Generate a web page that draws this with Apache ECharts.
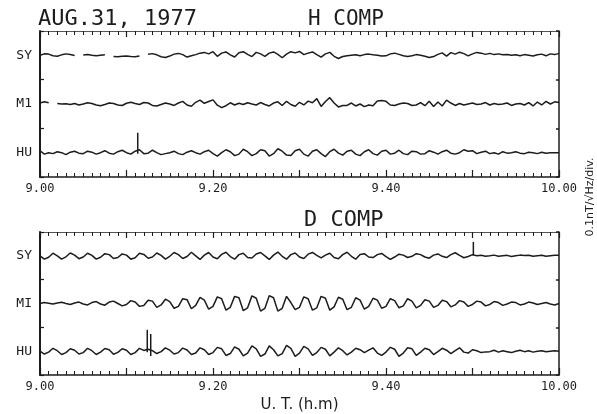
<!DOCTYPE html>
<html>
<head>
<meta charset="utf-8">
<script src="https://cdn.jsdelivr.net/npm/echarts@6/dist/echarts.min.js"></script>
<style>
html, body { margin: 0; padding: 0; background: #fff; }
#main { width: 597px; height: 414px; }
</style>
</head>
<body>
<div id="main"></div>
<script>
// traces every 0.5 min from 9.00 UT, in 0.01 div (null = pen gap)
const STEP = 0.5;
const tickLabels = ['9.00', '9.20', '9.40', '10.00'];
const hStations = ['SY', 'M1', 'HU'];
const dStations = ['SY', 'MI', 'HU'];
const offsets = [5, 3, 1]; // trace baselines, div

const hSY = [
  0, 6, 5, -2, -4, 2, 6, 3, -1, null,
  1, 3, 0, -2, 0, 2, null, -5, -6, -4,
  -3, -5, -6, -3, null, 4, 7, 2, -6, -9,
  -3, 5, 8, 3, -7, -2, 3, 9, 12, 6,
  15, -4, 9, 14, 2, -7, 11, 15, 4, -5,
  12, 6, -4, 9, 14, 4, -10, 5, 15, 10,
  16, 3, 9, 14, 3, -7, 6, 12, -4, -13,
  -5, -2, 0, 2, -2, 3, 5, 2, 0, -3,
  -2, 6, 9, 4, -2, -5, -2, 3, 0, -4,
  -9, -5, 4, 10, -3, 11, 5, 13, 7, -2,
  6, 12, 9, 4, 8, 3, 6, 2, 3, 0,
  2, -2, 3, 0, -3, 2, 5, -2, 6, 3,
  8
];
const hM1 = [
  4, 9, 5, null, 2, 0, 1, -2, 2, -4,
  0, 5, 2, -4, -7, -2, 4, 2, -4, -6,
  3, 7, 2, -2, 6, 4, -6, -8, -2, 4,
  0, -6, 4, 11, -4, -9, 7, 16, 3, 10,
  17, -5, -15, -7, 5, -4, 3, -2, 5, 0,
  -4, 6, -2, -8, 4, 9, -6, 11, -2, -9,
  7, -4, 12, 5, 22, -10, 10, 26, 4, -12,
  -6, -6, 4, -8, 0, -11, -4, -7, 12, 14,
  11, -4, -6, 0, 4, 2, -6, -4, 6, -7,
  11, -10, 8, -8, 16, 4, -6, 2, -4, 0,
  4, -2, 0, 6, -4, 2, -2, 0, 4, -6,
  0, 2, -4, 6, -8, 8, -4, 11, 0, 9,
  6
];
const hHU = [
  8, -6, 0, -4, 4, 0, -8, 2, 6, -2,
  -4, 6, 2, -6, 0, 8, -2, -6, 4, 10,
  0, -6, 6, 12, -4, -2, 10, 0, -8, -4,
  0, 6, -4, -8, 2, 8, 0, -6, 4, 10,
  -4, -14, 0, 12, 4, -12, -6, 14, 4, -12,
  -4, 12, 8, -14, -4, 16, 6, -10, -12, 8,
  14, -6, -14, 6, 12, -4, -16, 4, 14, -2,
  -10, 6, 10, -6, -12, 4, 12, -4, -10, 6,
  10, -6, -2, 10, -4, -8, 6, 4, -6, -4,
  8, 2, -6, 4, 10, -2, -6, 0, 12, 6,
  8, -4, 2, 6, -4, 0, -6, 4, -2, 0,
  4, -2, -4, 2, 0, -4, 2, -2, 0, 0,
  0
];
const dSY = [
  0, -14, -6, 11, 0, -14, -4, 12, 3, -12,
  -5, 11, 2, -14, -6, 9, 5, -11, -7, 8,
  3, -14, -8, 11, 6, -10, -5, 12, 2, -14,
  -2, 14, 5, -11, -3, 15, 0, -15, 3, 14,
  -5, -12, 6, 15, -3, -14, 5, 11, -7, -9,
  8, 14, 0, -15, 3, 16, -2, -14, 5, 12,
  -5, -11, 7, 14, 2, -9, 3, 11, -7, -12,
  5, 15, -2, -14, 6, 9, -5, -7, 5, 10,
  -3, -15, -5, 7, 3, -7, -2, 9, 5, -5,
  -10, 3, 8, -2, -7, 5, 13, 2, -8, -3,
  5, 0, 2, -2, 0, 3, -2, 0, 2, -3,
  0, 3, 1, 2, -2, 0, 2, -2, 0, 2,
  2
];
const dMI = [
  0, 4, 1, -2, 2, 5, 0, -4, 2, 6,
  -2, -6, 4, 8, -2, -7, 6, 10, 0, -10,
  -4, 12, 6, -12, -8, 14, 10, -16, -6, 18,
  8, -20, -12, 20, 16, -22, -8, 26, 14, -24,
  -12, 28, 20, -28, -16, 30, 24, -30, -18, 32,
  22, -32, -20, 33, 24, -32, -20, 30, 4, -26,
  -16, 28, 20, -28, -18, 30, 22, -28, -14, 26,
  18, -26, -16, 24, 14, -24, -12, 22, 14, -20,
  -12, 20, 12, -18, -10, 20, 10, -18, -8, 16,
  10, -16, -8, 14, 8, -14, -6, 12, 6, -12,
  -4, 10, 6, -10, -4, 8, 4, -8, -2, 6,
  4, -6, -2, 6, 2, -4, 0, 4, -2, -6,
  0
];
const dHU = [
  0, -12, -4, 12, 2, -14, -6, 10, 4, -12,
  -6, 12, 2, -14, -4, 11, 6, -13, -5, 10,
  4, -14, -6, 12, 3, 8, 2, -10, -2, 14,
  4, -12, -6, 13, 5, -14, -8, 14, 6, -14,
  -6, 16, 10, -18, -10, 18, 8, -20, -8, 22,
  10, -22, -12, 22, 6, -20, -10, 24, 12, -22,
  -8, 20, 10, -18, -6, 16, 8, -20, -4, 14,
  2, -16, -4, 12, 6, -6, 4, 14, -8, -18,
  -4, 16, 8, -22, -8, 14, 10, -18, -4, 12,
  6, -14, -2, 12, 4, -10, 2, 14, -4, -8,
  6, 2, -6, -3, -2, 4, -4, 2, -2, -6,
  0, 4, -2, 2, -4, 0, 2, -2, 0, 2,
  0
];

// calibration pulses: [minute, trace index, from, to] in div
const hSpikes = [[11.3, 2, -0.04, 0.82]];
const dSpikes = [[12.4, 2, -0.05, 0.9], [12.8, 2, -0.2, 0.72], [50.1, 0, 0, 0.58]];

const ink = '#1c1c1c';
const mono = 'DejaVu Sans Mono';

function traceData(vals, base) {
  return vals.map((v, i) => [i * STEP, v == null ? '-' : base + v / 100]);
}

function xAxes(gi, name) {
  return [
    {
      type: 'value', gridIndex: gi, position: 'bottom', min: 0, max: 60, interval: 10,
      axisLine: { show: true, onZero: false, lineStyle: { color: ink, width: 1.5 } },
      axisTick: { show: true, inside: true, length: 7, lineStyle: { color: ink, width: 1.2 } },
      minorTick: { show: true, splitNumber: 10, length: 4, lineStyle: { color: ink, width: 1 } },
      splitLine: { show: false },
      axisLabel: {
        formatter: v => (v % 20 === 0 ? tickLabels[v / 20] : ''),
        fontFamily: mono, fontSize: 12, color: ink, margin: 6
      },
      name: name, nameLocation: 'middle', nameGap: 23,
      nameTextStyle: { fontFamily: 'DejaVu Sans', fontSize: 15, color: ink }
    },
    {
      type: 'value', gridIndex: gi, position: 'top', min: 0, max: 60, interval: 10,
      axisLine: { show: true, onZero: false, lineStyle: { color: '#555', width: 1 } },
      axisTick: { show: true, inside: true, length: 6, lineStyle: { color: ink, width: 1.2 } },
      minorTick: { show: true, splitNumber: 10, length: 4, lineStyle: { color: ink, width: 1 } },
      splitLine: { show: false },
      axisLabel: { show: false }
    }
  ];
}

function yAxes(gi, names) {
  return [
    {
      type: 'value', gridIndex: gi, position: 'left', min: 0, max: 6, interval: 1,
      axisLine: { show: true, onZero: false, lineStyle: { color: ink, width: 2 } },
      axisTick: { show: false },
      splitLine: { show: false },
      axisLabel: {
        formatter: v => { const k = offsets.indexOf(v); return k < 0 ? '' : names[k]; },
        fontFamily: mono, fontSize: 13, color: ink, margin: 8
      }
    },
    {
      type: 'value', gridIndex: gi, position: 'left', min: 0, max: 6, interval: 2,
      axisLine: { show: false },
      axisTick: { show: true, inside: true, length: 4, lineStyle: { color: ink, width: 1.2 } },
      splitLine: { show: false },
      axisLabel: { show: false }
    },
    {
      type: 'value', gridIndex: gi, position: 'right', min: 0, max: 6, interval: 2,
      axisLine: { show: true, onZero: false, lineStyle: { color: ink, width: 1.5 } },
      axisTick: { show: true, inside: true, length: 3, lineStyle: { color: ink, width: 1.5 } },
      splitLine: { show: false },
      axisLabel: { show: false }
    }
  ];
}

const lineStyle = { color: ink, width: 1.5 };
const series = [];
[[hSY, hM1, hHU], [dSY, dMI, dHU]].forEach((traces, gi) => {
  traces.forEach((vals, k) => {
    series.push({
      type: 'line', xAxisIndex: gi * 2, yAxisIndex: gi * 3,
      data: traceData(vals, offsets[k]),
      symbol: 'none', lineStyle: lineStyle, connectNulls: false, silent: true
    });
  });
});
[hSpikes, dSpikes].forEach((spikes, gi) => {
  spikes.forEach(s => {
    series.push({
      type: 'line', xAxisIndex: gi * 2, yAxisIndex: gi * 3,
      data: [[s[0], offsets[s[1]] + s[2]], [s[0], offsets[s[1]] + s[3]]],
      symbol: 'none', lineStyle: lineStyle, silent: true
    });
  });
});

const chart = echarts.init(document.getElementById('main'));
chart.setOption({
  animation: false,
  backgroundColor: '#fff',
  title: [
    { text: 'AUG.31, 1977', left: 33, top: 3, textStyle: { fontFamily: mono, fontSize: 22, fontWeight: 'normal', color: ink } },
    { text: 'H COMP', left: 303, top: 4, textStyle: { fontFamily: mono, fontSize: 21, fontWeight: 'normal', color: ink } },
    { text: 'D COMP', left: 299, top: 204, textStyle: { fontFamily: mono, fontSize: 22, fontWeight: 'normal', color: ink } }
  ],
  grid: [
    { left: 40, right: 38, top: 31, height: 146 },
    { left: 40, right: 38, top: 232, height: 145 }
  ],
  xAxis: [...xAxes(0, ''), ...xAxes(1, 'U. T. (h.m)')],
  yAxis: [...yAxes(0, hStations), ...yAxes(1, dStations)],
  graphic: [
    {
      type: 'text', x: 590, y: 197, rotation: Math.PI / 2,
      style: { text: '0.1nT/√Hz/div.', fontFamily: 'DejaVu Sans', fontSize: 11, fill: ink, textAlign: 'center', textVerticalAlign: 'middle' }
    }
  ],
  series: series
});
</script>
</body>
</html>
